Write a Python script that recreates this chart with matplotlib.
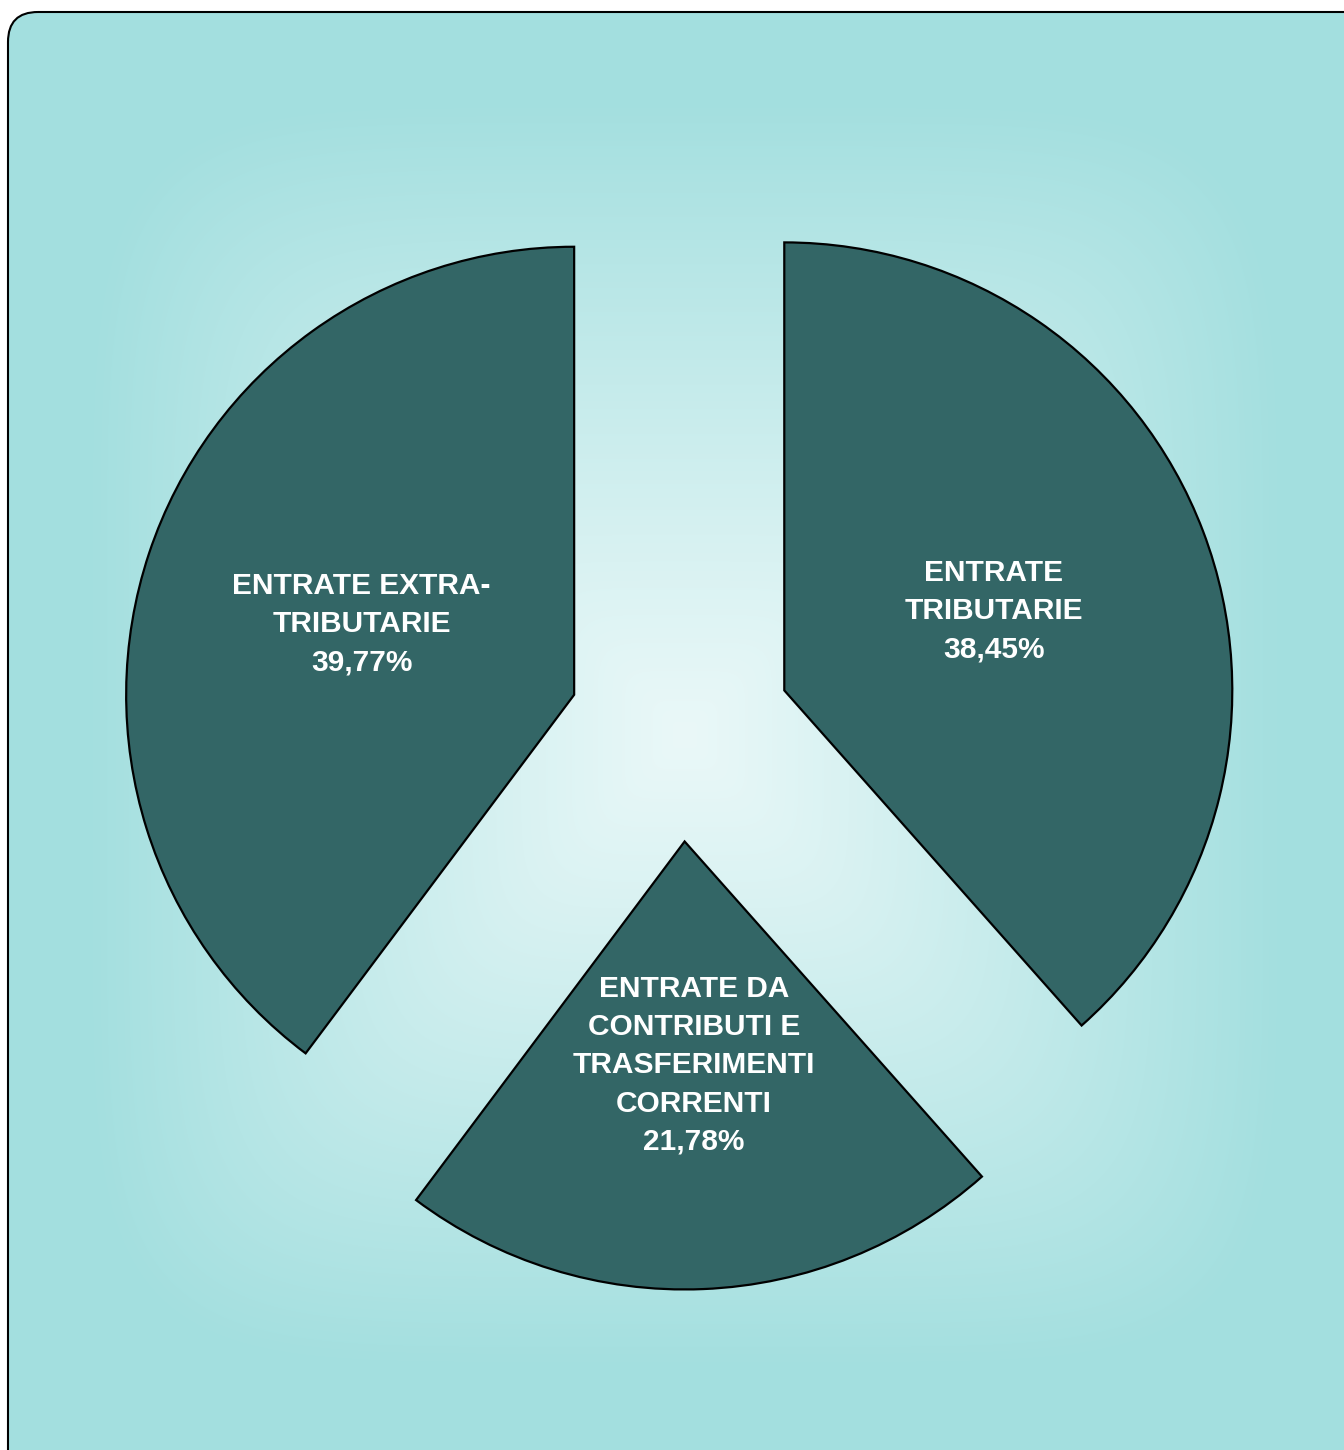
import numpy as np
import matplotlib.pyplot as plt
from matplotlib.patches import FancyBboxPatch
from matplotlib.colors import to_rgb

# slice data, clockwise from the top
categories = ["ENTRATE\nTRIBUTARIE", "ENTRATE DA\nCONTRIBUTI E\nTRASFERIMENTI\nCORRENTI", "ENTRATE EXTRA-\nTRIBUTARIE"]
shares = [38.45, 21.78, 39.77]
share_labels = ["38,45%", "21,78%", "39,77%"]

W, H = 1344, 1450
fig = plt.figure(figsize=(W / 100, H / 100), dpi=100)
fig.patch.set_facecolor("white")

# background panel with a rounded rectangular gradient
bg = fig.add_axes([0, 0, 1, 1])
bg.set_xlim(0, W)
bg.set_ylim(H, 0)
bg.axis("off")

cx, cy = 685, 735
ax_, ay_ = 600, 635
xx, yy = np.meshgrid(np.arange(W) + 0.5, np.arange(H) + 0.5)
d = ((np.abs(xx - cx) / ax_) ** 6 + (np.abs(yy - cy) / ay_) ** 6) ** (1 / 6)
d = np.clip(d, 0, 1)
c_in = np.array(to_rgb("#EAF8F8"))
c_out = np.array(to_rgb("#A3DFDF"))
img = c_in + (c_out - c_in) * d[..., None] ** 1.1

panel = FancyBboxPatch((8, 12), W + 40, H + 40,
                       boxstyle="round,pad=0,rounding_size=30",
                       facecolor="none", edgecolor="black", linewidth=1.5, zorder=3)
bg.add_patch(panel)
im = bg.imshow(img, extent=(0, W, H, 0), zorder=1)
im.set_clip_path(panel)

# pie
ax = fig.add_axes([0, 0, 1, 1])
ax.patch.set_alpha(0)
radius = 448
labels = [c + "\n" + p for c, p in zip(categories, share_labels)]
ax.pie(shares, labels=labels, startangle=90, counterclock=False,
       center=(680, H - 730), radius=radius,
       explode=[0.249 * radius] * 3,
       colors=["#336666"] * 3, labeldistance=0.5,
       wedgeprops=dict(edgecolor="black", linewidth=1.6),
       textprops=dict(color="white", fontsize=21.5, fontweight="bold",
                      family="Liberation Sans", ha="center", va="center",
                      linespacing=1.47))
ax.set_xlim(0, W)
ax.set_ylim(0, H)
ax.axis("off")

fig.savefig("out.png", dpi=100)
